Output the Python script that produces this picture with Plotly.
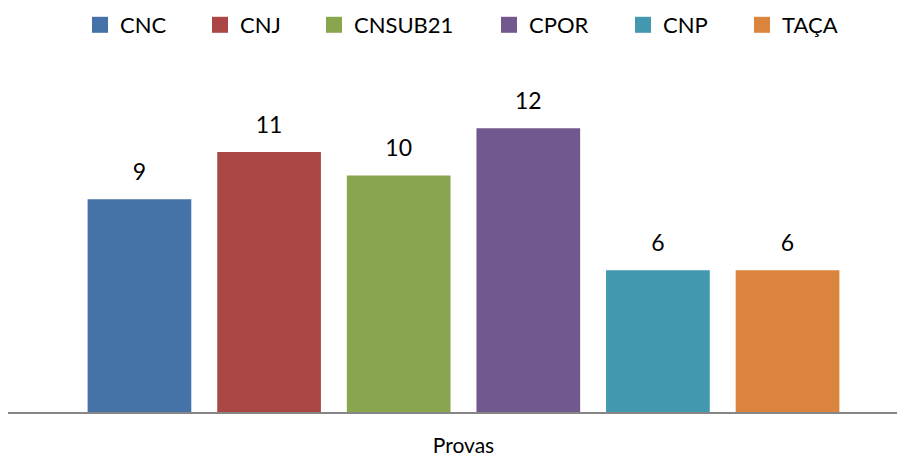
import plotly.graph_objects as go

series = ["CNC", "CNJ", "CNSUB21", "CPOR", "CNP", "TAÇA"]
values = [9, 11, 10, 12, 6, 6]
colors = ["#4572A7", "#AA4643", "#89A54E", "#71588F", "#4198AF", "#DB843D"]
category = ["Provas"]

# legend entry left positions (pixels in the picture)
legend_x_px = [95, 215, 329, 504, 638, 757]

FONT = "Lato"
PAGE_OFFSET = 8  # default page margin of the html body
W, H = 905 - PAGE_OFFSET, 456 - PAGE_OFFSET

fig = go.Figure()
legend_names = ["legend"] + [f"legend{i}" for i in range(2, 7)]

# bars
for name, val, col in zip(series, values, colors):
    fig.add_trace(go.Bar(
        x=category, y=[val], name=name, showlegend=False,
        marker=dict(color=col, line=dict(width=0)),
        hoverinfo="name+y",
    ))

# value labels (grouped scatter text aligned with bars)
for name, val in zip(series, values):
    fig.add_trace(go.Scatter(
        x=category, y=[val], name=name, showlegend=False,
        mode="markers+text", text=[str(val)], textposition="top center",
        marker=dict(size=20, opacity=0), cliponaxis=False,
        textfont=dict(family=FONT, size=23, color="#000000"),
        hoverinfo="skip",
    ))

# legend proxies on hidden axes
for name, col, lg in zip(series, colors, legend_names):
    fig.add_trace(go.Scatter(
        x=[None], y=[None], name=name, mode="markers",
        marker=dict(symbol="square", size=16, color=col),
        xaxis="x2", yaxis="y2", legend=lg, showlegend=True,
    ))

layout_legends = {}
for lg, px in zip(legend_names, legend_x_px):
    layout_legends[lg] = dict(
        xref="container", yref="container",
        x=(px - 23) / W, xanchor="left",
        y=1 - 17 / H, yanchor="middle",
        orientation="h", bgcolor="rgba(0,0,0,0)",
        font=dict(family=FONT, size=22, color="#000000"),
        itemwidth=30,
    )

fig.update_layout(
    width=W, height=H,
    margin=dict(l=0, r=0, t=73, b=44, autoexpand=False),
    paper_bgcolor="white", plot_bgcolor="white",
    barmode="group", bargap=0.133, bargroupgap=0.2,
    scattermode="group", scattergap=0.133,
    font=dict(family=FONT, size=22, color="#000000"),
    showlegend=True,
    xaxis=dict(range=[-0.5078, 0.4922], showline=True, linecolor="#868686", linewidth=2,
               showgrid=False, zeroline=False, ticks="", ticklabelstandoff=14,
               tickfont=dict(family=FONT, size=21, color="#000000"), fixedrange=True),
    yaxis=dict(range=[0, 14], visible=False, showgrid=False, zeroline=False),
    xaxis2=dict(visible=False, overlaying="x", range=[0, 1]),
    yaxis2=dict(visible=False, overlaying="y", range=[0, 1]),
    **layout_legends,
)

fig.write_html("out.html")
